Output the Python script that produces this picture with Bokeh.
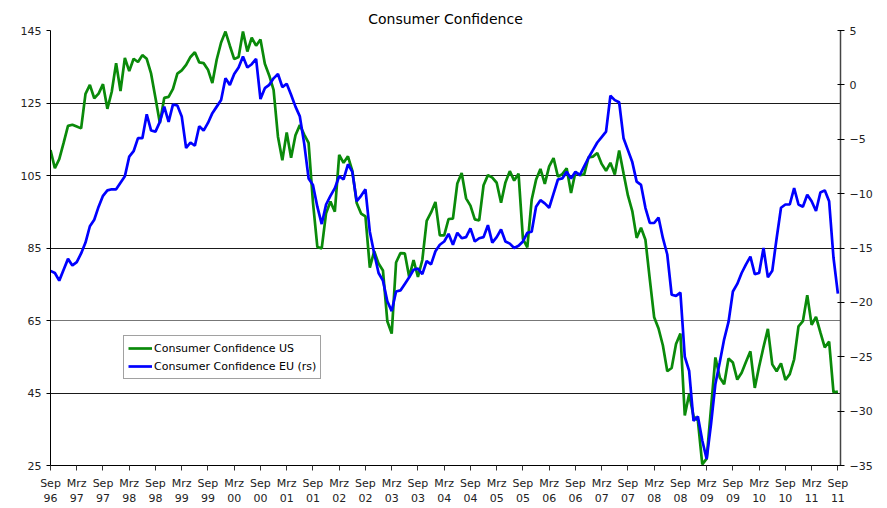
from bokeh.plotting import figure
from bokeh.models import Range1d, LinearAxis, FixedTicker, Legend, LegendItem, ColumnDataSource, Grid
from bokeh.embed import file_html
from bokeh.resources import INLINE

# Monthly data, Sep 1996 .. Sep 2011
us_confidence = [
    112.0, 107.0, 109.5, 114.0, 118.7, 119.0, 118.5, 118.0, 127.5, 130.0, 126.3, 127.6,
    130.2, 123.4, 128.1, 136.0, 128.3, 137.4, 133.8, 137.2, 136.3, 138.2, 137.2, 133.1,
    126.4, 119.5, 126.4, 126.7, 128.9, 133.1, 134.0, 135.5, 137.7, 139.0, 136.2, 136.0,
    134.2, 130.5, 137.0, 141.7, 144.7, 140.8, 137.1, 137.7, 144.7, 139.2, 143.0, 140.8,
    142.5, 135.8, 132.6, 128.6, 115.7, 109.2, 116.9, 109.9, 116.1, 118.9, 116.3, 114.0,
    97.6, 85.3, 84.9, 94.6, 97.8, 95.0, 110.7, 108.5, 110.3, 106.3, 97.4, 94.5,
    93.7, 79.6, 84.1, 80.7, 78.8, 64.8, 61.4, 81.0, 83.6, 83.5, 77.0, 81.7,
    77.0, 81.7, 92.5, 94.8, 97.7, 88.5, 88.5, 93.0, 93.1, 102.8, 105.7, 98.7,
    96.7, 92.9, 92.6, 102.3, 105.1, 104.4, 103.0, 97.5, 103.1, 106.2, 103.6, 105.5,
    87.5, 85.2, 98.3, 103.8, 106.8, 102.7, 107.5, 109.8, 104.7, 105.4, 107.0, 100.2,
    105.9, 105.1, 105.3, 110.0, 110.2, 111.2, 108.2, 106.3, 108.5, 105.3, 111.9, 105.6,
    99.5, 95.2, 87.8, 90.6, 87.3, 76.4, 65.9, 62.8, 58.1, 51.0, 51.9, 58.5,
    61.4, 38.8, 44.7, 38.6, 37.4, 25.3, 26.9, 40.8, 54.8, 49.3, 47.4, 54.5,
    53.4, 48.7, 50.6, 53.6, 56.5, 46.4, 52.3, 57.7, 62.7, 52.9, 51.0, 53.2,
    48.6, 50.2, 54.3, 63.4, 64.8, 72.0, 63.8, 66.0, 61.7, 57.6, 59.2, 45.2,
    45.4,
]

eu_confidence = [
    -17.1, -17.3, -18.0, -17.0, -16.0, -16.6, -16.3, -15.5, -14.5, -13.0, -12.4, -11.2,
    -10.2, -9.7, -9.6, -9.6, -9.0, -8.4, -6.6, -6.1, -4.9, -4.9, -2.7, -4.2,
    -4.3, -3.4, -2.0, -3.4, -1.8, -1.9, -2.9, -5.8, -5.3, -5.6, -3.8, -4.2,
    -3.5, -2.6, -2.0, -1.4, 0.6, 0.0, 1.0, 1.6, 2.6, 1.6, 1.9, 2.4,
    -1.3, -0.3, 0.0, 0.6, 1.0, -0.2, 0.1, -0.9, -2.0, -2.9, -5.4, -8.6,
    -9.2, -11.2, -12.8, -11.0, -10.2, -9.5, -8.4, -8.7, -7.3, -8.0, -10.7, -10.2,
    -9.6, -13.5, -15.5, -17.3, -18.0, -19.9, -20.8, -19.0, -18.9, -18.3, -17.7, -17.0,
    -16.9, -17.4, -16.2, -16.5, -15.3, -14.7, -14.4, -13.7, -14.7, -13.6, -14.1, -14.0,
    -13.2, -14.4, -14.1, -14.0, -12.9, -14.5, -14.0, -13.3, -14.4, -14.6, -15.0, -14.8,
    -14.4, -13.6, -13.5, -11.2, -10.6, -10.9, -11.3, -10.0, -8.7, -8.6, -8.0, -8.6,
    -8.0, -8.3, -7.5, -6.7, -6.0, -5.3, -4.8, -4.3, -1.0, -1.4, -1.6, -4.9,
    -6.0, -7.1, -8.9, -9.2, -11.3, -12.7, -12.7, -12.2, -14.1, -15.6, -19.3, -19.4,
    -19.1, -25.0, -26.3, -30.9, -30.5, -32.7, -34.4, -31.2, -27.5, -25.5, -23.4, -21.8,
    -19.0, -18.3, -17.3, -16.5, -15.8, -17.4, -17.3, -15.0, -17.7, -17.1, -14.1, -11.3,
    -11.0, -11.0, -9.5, -11.0, -11.2, -10.1, -10.7, -11.6, -9.9, -9.7, -10.7, -15.9,
    -19.2,
]

tick_labels = [
    "Sep\n96", "Mrz\n97", "Sep\n97", "Mrz\n98", "Sep\n98", "Mrz\n99", "Sep\n99",
    "Mrz\n00", "Sep\n00", "Mrz\n01", "Sep\n01", "Mrz\n02", "Sep\n02", "Mrz\n03",
    "Sep\n03", "Mrz\n04", "Sep\n04", "Mrz\n05", "Sep\n05", "Mrz\n06", "Sep\n06",
    "Mrz\n07", "Sep\n07", "Mrz\n08", "Sep\n08", "Mrz\n09", "Sep\n09", "Mrz\n10",
    "Sep\n10", "Mrz\n11", "Sep\n11",
]
left_ticks = [25, 45, 65, 85, 105, 125, 145]
dark_grid = [45, 85, 105, 125]
light_grid = [65, 145]
right_ticks = [-35, -30, -25, -20, -15, -10, -5, 0, 5]

months = list(range(len(us_confidence)))
tick_pos = list(range(0, len(us_confidence), 6))

FONT = "DejaVu Sans"
LBL = "#222222"

p = figure(width=887, height=508, output_backend="svg", toolbar_location=None,
           x_range=Range1d(0, 180.6), y_range=Range1d(25, 145),
           min_border_left=50, min_border_right=47, min_border_top=30, min_border_bottom=41)
p.extra_y_ranges = {"eu": Range1d(-35, 5)}
p.outline_line_color = None
p.background_fill_color = "white"

p.title.text = "Consumer Confidence"
p.title.align = "center"
p.title.text_font = FONT
p.title.text_font_size = "14px"
p.title.text_font_style = "normal"
p.title.text_color = "black"
p.title.standoff = 7

src = ColumnDataSource(dict(m=months, us=us_confidence, eu=eu_confidence))
r_us = p.line("m", "us", source=src, line_color="#0a8a0a", line_width=2.7)
r_eu = p.line("m", "eu", source=src, line_color="#0000ff", line_width=2.7, y_range_name="eu")

# x axis
xa = p.xaxis[0]
xa.ticker = FixedTicker(ticks=tick_pos)
xa.major_label_overrides = {t: lab for t, lab in zip(tick_pos, tick_labels)}
xa.minor_tick_line_color = None
xa.major_tick_out = 5
xa.major_tick_in = 0
xa.major_label_standoff = 6
xa.major_label_text_font = FONT
xa.major_label_text_font_size = "11px"
xa.major_label_text_color = LBL
xa.axis_line_color = "black"
xa.major_tick_line_color = "#333333"
p.xgrid.visible = False

# left axis
ya = p.yaxis[0]
ya.ticker = FixedTicker(ticks=left_ticks)
ya.minor_tick_line_color = None
ya.major_tick_out = 4
ya.major_tick_in = 0
ya.major_label_standoff = 5
ya.major_label_text_font = FONT
ya.major_label_text_font_size = "11px"
ya.major_label_text_color = LBL
ya.axis_line_color = "black"
p.ygrid.ticker = FixedTicker(ticks=dark_grid)
p.ygrid.grid_line_color = "#1a1a1a"
p.ygrid.grid_line_width = 1
g2 = Grid(dimension=1, ticker=FixedTicker(ticks=light_grid), grid_line_color="#777777", grid_line_width=1)
p.add_layout(g2)

# right axis
ra = LinearAxis(y_range_name="eu", ticker=FixedTicker(ticks=right_ticks))
ra.minor_tick_line_color = None
ra.major_tick_out = 4
ra.major_tick_in = 3
ra.major_label_standoff = 5
ra.major_label_text_font = FONT
ra.major_label_text_font_size = "11px"
ra.major_label_text_color = LBL
ra.axis_line_color = "#444444"
ra.axis_line_width = 1.5
p.add_layout(ra, "right")

legend = Legend(items=[LegendItem(label="Consumer Confidence US", renderers=[r_us]),
                       LegendItem(label="Consumer Confidence EU (rs)", renderers=[r_eu])],
                location=(73, 86))
legend.label_text_font = FONT
legend.label_text_font_size = "11px"
legend.label_text_color = "black"
legend.border_line_color = "#444444"
legend.border_line_width = 1
legend.background_fill_alpha = 1
legend.glyph_width = 24
legend.glyph_height = 16
legend.label_height = 16
legend.label_standoff = 2
legend.spacing = 2
legend.padding = 4
legend.margin = 0
p.add_layout(legend)

open("out.html", "w").write(file_html(p, INLINE))
